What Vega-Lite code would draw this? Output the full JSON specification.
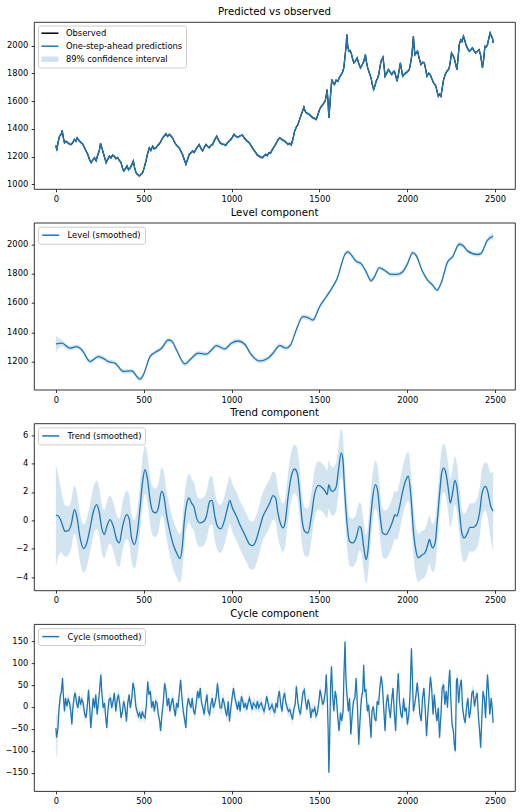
{
"$schema": "https://vega.github.io/schema/vega-lite/v6.json",
"padding": {"left": 4, "top": 6, "right": 5, "bottom": 5},
"spacing": 33.7,
"bounds": "flush",
"resolve": {"scale": {"color": "independent"}, "legend": {"color": "independent"}},
"config": {
  "font": "DejaVu Sans",
  "view": {"stroke": "#000000", "strokeWidth": 0.8},
  "axis": {"grid": false, "domain": false, "format": "d", "labelOverlap": false, "labelFont": "DejaVu Sans", "labelFontSize": 8.3, "labelColor": "#000000", "tickColor": "#000000", "tickSize": 2.8, "tickWidth": 0.8},
  "title": {"fontSize": 10.2, "font": "DejaVu Sans", "fontWeight": "normal", "color": "#000000", "offset": 5, "frame": "group", "anchor": "middle"},
  "legend": {"labelFont": "DejaVu Sans", "labelFontSize": 8.4, "labelColor": "#000000", "fillColor": "rgba(255,255,255,0.8)", "strokeColor": "#cccccc", "cornerRadius": 2.5, "padding": 3.5, "symbolSize": 72, "symbolType": "M-1,0L3,0", "labelOffset": 16, "rowPadding": 4, "symbolStrokeWidth": 1.5}
},
"datasets": {
"obs": [
{"t":0,"v":1280,"lo":1240,"hi":1320},{"t":6,"v":1245,"lo":1220,"hi":1270},{"t":12,"v":1300,"lo":1285,"hi":1315},{"t":21,"v":1347,"lo":1335,"hi":1359},{"t":30,"v":1360,"lo":1348,"hi":1372},{"t":36,"v":1388,"lo":1376,"hi":1400},{"t":42,"v":1340,"lo":1328,"hi":1352},{"t":49,"v":1300,"lo":1288,"hi":1312},{"t":58,"v":1310,"lo":1298,"hi":1322},{"t":68,"v":1300,"lo":1288,"hi":1312},{"t":78,"v":1290,"lo":1278,"hi":1302},{"t":87,"v":1287,"lo":1275,"hi":1299},{"t":96,"v":1300,"lo":1288,"hi":1312},{"t":106,"v":1323,"lo":1311,"hi":1335},{"t":114,"v":1310,"lo":1298,"hi":1322},{"t":121,"v":1335,"lo":1323,"hi":1347},{"t":132,"v":1315,"lo":1303,"hi":1327},{"t":144,"v":1300,"lo":1288,"hi":1312},{"t":153,"v":1290,"lo":1278,"hi":1302},{"t":163,"v":1263,"lo":1251,"hi":1275},{"t":172,"v":1240,"lo":1228,"hi":1252},{"t":182,"v":1215,"lo":1203,"hi":1227},{"t":191,"v":1180,"lo":1168,"hi":1192},{"t":201,"v":1156,"lo":1144,"hi":1168},{"t":210,"v":1175,"lo":1163,"hi":1187},{"t":220,"v":1192,"lo":1180,"hi":1204},{"t":229,"v":1170,"lo":1158,"hi":1182},{"t":239,"v":1215,"lo":1203,"hi":1227},{"t":247,"v":1240,"lo":1228,"hi":1252},{"t":254,"v":1295,"lo":1283,"hi":1307},{"t":260,"v":1270,"lo":1258,"hi":1282},{"t":267,"v":1240,"lo":1228,"hi":1252},{"t":276,"v":1200,"lo":1188,"hi":1212},{"t":286,"v":1156,"lo":1144,"hi":1168},{"t":295,"v":1180,"lo":1168,"hi":1192},{"t":305,"v":1203,"lo":1191,"hi":1215},{"t":314,"v":1190,"lo":1178,"hi":1202},{"t":323,"v":1210,"lo":1198,"hi":1222},{"t":333,"v":1203,"lo":1191,"hi":1215},{"t":342,"v":1185,"lo":1173,"hi":1197},{"t":352,"v":1192,"lo":1180,"hi":1204},{"t":362,"v":1170,"lo":1158,"hi":1182},{"t":371,"v":1156,"lo":1144,"hi":1168},{"t":378,"v":1120,"lo":1108,"hi":1132},{"t":386,"v":1096,"lo":1084,"hi":1108},{"t":395,"v":1110,"lo":1098,"hi":1122},{"t":405,"v":1132,"lo":1120,"hi":1144},{"t":414,"v":1105,"lo":1093,"hi":1117},{"t":424,"v":1120,"lo":1108,"hi":1132},{"t":432,"v":1140,"lo":1128,"hi":1152},{"t":441,"v":1168,"lo":1156,"hi":1180},{"t":448,"v":1120,"lo":1108,"hi":1132},{"t":456,"v":1084,"lo":1072,"hi":1096},{"t":465,"v":1070,"lo":1058,"hi":1082},{"t":475,"v":1060,"lo":1048,"hi":1072},{"t":485,"v":1072,"lo":1060,"hi":1084},{"t":494,"v":1084,"lo":1072,"hi":1096},{"t":503,"v":1120,"lo":1108,"hi":1132},{"t":513,"v":1168,"lo":1156,"hi":1180},{"t":522,"v":1220,"lo":1208,"hi":1232},{"t":532,"v":1263,"lo":1251,"hi":1275},{"t":541,"v":1245,"lo":1233,"hi":1257},{"t":551,"v":1275,"lo":1263,"hi":1287},{"t":560,"v":1255,"lo":1243,"hi":1267},{"t":570,"v":1263,"lo":1251,"hi":1275},{"t":580,"v":1280,"lo":1268,"hi":1292},{"t":589,"v":1292,"lo":1280,"hi":1304},{"t":598,"v":1310,"lo":1298,"hi":1322},{"t":608,"v":1335,"lo":1323,"hi":1347},{"t":618,"v":1350,"lo":1338,"hi":1362},{"t":627,"v":1364,"lo":1352,"hi":1376},{"t":636,"v":1345,"lo":1333,"hi":1357},{"t":646,"v":1360,"lo":1348,"hi":1372},{"t":655,"v":1348,"lo":1336,"hi":1360},{"t":664,"v":1335,"lo":1323,"hi":1347},{"t":673,"v":1310,"lo":1298,"hi":1322},{"t":683,"v":1287,"lo":1275,"hi":1299},{"t":692,"v":1275,"lo":1263,"hi":1287},{"t":702,"v":1263,"lo":1251,"hi":1275},{"t":711,"v":1240,"lo":1228,"hi":1252},{"t":721,"v":1215,"lo":1203,"hi":1227},{"t":730,"v":1180,"lo":1168,"hi":1192},{"t":740,"v":1144,"lo":1132,"hi":1156},{"t":750,"v":1180,"lo":1168,"hi":1192},{"t":759,"v":1215,"lo":1203,"hi":1227},{"t":768,"v":1225,"lo":1213,"hi":1237},{"t":778,"v":1240,"lo":1228,"hi":1252},{"t":787,"v":1230,"lo":1218,"hi":1242},{"t":797,"v":1252,"lo":1240,"hi":1264},{"t":806,"v":1270,"lo":1258,"hi":1282},{"t":816,"v":1287,"lo":1275,"hi":1299},{"t":825,"v":1260,"lo":1248,"hi":1272},{"t":835,"v":1240,"lo":1228,"hi":1252},{"t":844,"v":1265,"lo":1253,"hi":1277},{"t":854,"v":1287,"lo":1275,"hi":1299},{"t":863,"v":1275,"lo":1263,"hi":1287},{"t":873,"v":1263,"lo":1251,"hi":1275},{"t":882,"v":1280,"lo":1268,"hi":1292},{"t":892,"v":1287,"lo":1275,"hi":1299},{"t":904,"v":1320,"lo":1308,"hi":1332},{"t":916,"v":1347,"lo":1335,"hi":1359},{"t":925,"v":1320,"lo":1308,"hi":1332},{"t":935,"v":1300,"lo":1288,"hi":1312},{"t":946,"v":1290,"lo":1278,"hi":1302},{"t":958,"v":1287,"lo":1275,"hi":1299},{"t":967,"v":1280,"lo":1268,"hi":1292},{"t":977,"v":1300,"lo":1288,"hi":1312},{"t":986,"v":1310,"lo":1298,"hi":1322},{"t":996,"v":1323,"lo":1311,"hi":1335},{"t":1005,"v":1340,"lo":1328,"hi":1352},{"t":1014,"v":1360,"lo":1348,"hi":1372},{"t":1025,"v":1345,"lo":1333,"hi":1357},{"t":1037,"v":1340,"lo":1328,"hi":1352},{"t":1050,"v":1350,"lo":1338,"hi":1362},{"t":1062,"v":1355,"lo":1343,"hi":1367},{"t":1071,"v":1335,"lo":1323,"hi":1347},{"t":1081,"v":1323,"lo":1311,"hi":1335},{"t":1090,"v":1310,"lo":1298,"hi":1322},{"t":1100,"v":1300,"lo":1288,"hi":1312},{"t":1110,"v":1280,"lo":1268,"hi":1292},{"t":1119,"v":1263,"lo":1251,"hi":1275},{"t":1128,"v":1245,"lo":1233,"hi":1257},{"t":1138,"v":1228,"lo":1216,"hi":1240},{"t":1147,"v":1210,"lo":1198,"hi":1222},{"t":1157,"v":1203,"lo":1191,"hi":1215},{"t":1166,"v":1195,"lo":1183,"hi":1207},{"t":1176,"v":1192,"lo":1180,"hi":1204},{"t":1185,"v":1205,"lo":1193,"hi":1217},{"t":1194,"v":1215,"lo":1203,"hi":1227},{"t":1203,"v":1205,"lo":1193,"hi":1217},{"t":1213,"v":1228,"lo":1216,"hi":1240},{"t":1222,"v":1225,"lo":1213,"hi":1237},{"t":1232,"v":1250,"lo":1238,"hi":1262},{"t":1245,"v":1276,"lo":1264,"hi":1288},{"t":1251,"v":1287,"lo":1275,"hi":1299},{"t":1264,"v":1320,"lo":1308,"hi":1332},{"t":1275,"v":1335,"lo":1323,"hi":1347},{"t":1289,"v":1320,"lo":1308,"hi":1332},{"t":1302,"v":1312,"lo":1300,"hi":1324},{"t":1312,"v":1300,"lo":1288,"hi":1312},{"t":1321,"v":1288,"lo":1276,"hi":1300},{"t":1330,"v":1295,"lo":1283,"hi":1307},{"t":1340,"v":1283,"lo":1271,"hi":1295},{"t":1350,"v":1330,"lo":1318,"hi":1342},{"t":1359,"v":1383,"lo":1371,"hi":1395},{"t":1368,"v":1410,"lo":1398,"hi":1422},{"t":1378,"v":1431,"lo":1419,"hi":1443},{"t":1388,"v":1470,"lo":1458,"hi":1482},{"t":1397,"v":1503,"lo":1491,"hi":1515},{"t":1405,"v":1530,"lo":1518,"hi":1542},{"t":1412,"v":1556,"lo":1544,"hi":1568},{"t":1418,"v":1530,"lo":1518,"hi":1542},{"t":1425,"v":1515,"lo":1503,"hi":1527},{"t":1434,"v":1510,"lo":1498,"hi":1522},{"t":1444,"v":1503,"lo":1491,"hi":1515},{"t":1453,"v":1490,"lo":1478,"hi":1502},{"t":1463,"v":1479,"lo":1467,"hi":1491},{"t":1472,"v":1475,"lo":1463,"hi":1487},{"t":1482,"v":1467,"lo":1455,"hi":1479},{"t":1491,"v":1500,"lo":1488,"hi":1512},{"t":1501,"v":1539,"lo":1527,"hi":1551},{"t":1510,"v":1560,"lo":1548,"hi":1572},{"t":1520,"v":1575,"lo":1563,"hi":1587},{"t":1527,"v":1590,"lo":1578,"hi":1602},{"t":1533,"v":1599,"lo":1587,"hi":1611},{"t":1539,"v":1640,"lo":1628,"hi":1652},{"t":1544,"v":1683,"lo":1671,"hi":1695},{"t":1549,"v":1600,"lo":1588,"hi":1612},{"t":1554,"v":1479,"lo":1467,"hi":1491},{"t":1559,"v":1560,"lo":1548,"hi":1572},{"t":1563,"v":1635,"lo":1623,"hi":1647},{"t":1567,"v":1700,"lo":1688,"hi":1712},{"t":1571,"v":1755,"lo":1743,"hi":1767},{"t":1578,"v":1730,"lo":1718,"hi":1742},{"t":1586,"v":1719,"lo":1707,"hi":1731},{"t":1595,"v":1750,"lo":1738,"hi":1762},{"t":1605,"v":1743,"lo":1731,"hi":1755},{"t":1614,"v":1770,"lo":1758,"hi":1782},{"t":1624,"v":1791,"lo":1779,"hi":1803},{"t":1632,"v":1810,"lo":1798,"hi":1822},{"t":1639,"v":1839,"lo":1827,"hi":1851},{"t":1644,"v":1900,"lo":1888,"hi":1912},{"t":1649,"v":1959,"lo":1947,"hi":1971},{"t":1653,"v":2010,"lo":1998,"hi":2022},{"t":1656,"v":2079,"lo":2067,"hi":2091},{"t":1661,"v":2000,"lo":1988,"hi":2012},{"t":1667,"v":1959,"lo":1947,"hi":1971},{"t":1674,"v":1965,"lo":1953,"hi":1977},{"t":1681,"v":1947,"lo":1935,"hi":1959},{"t":1688,"v":1910,"lo":1898,"hi":1922},{"t":1696,"v":1875,"lo":1863,"hi":1887},{"t":1705,"v":1890,"lo":1878,"hi":1902},{"t":1715,"v":1911,"lo":1899,"hi":1923},{"t":1724,"v":1870,"lo":1858,"hi":1882},{"t":1734,"v":1839,"lo":1827,"hi":1851},{"t":1743,"v":1860,"lo":1848,"hi":1872},{"t":1753,"v":1887,"lo":1875,"hi":1899},{"t":1762,"v":1935,"lo":1923,"hi":1947},{"t":1768,"v":1880,"lo":1868,"hi":1892},{"t":1775,"v":1839,"lo":1827,"hi":1851},{"t":1785,"v":1800,"lo":1788,"hi":1812},{"t":1794,"v":1767,"lo":1755,"hi":1779},{"t":1801,"v":1720,"lo":1708,"hi":1732},{"t":1809,"v":1683,"lo":1671,"hi":1695},{"t":1816,"v":1710,"lo":1698,"hi":1722},{"t":1823,"v":1743,"lo":1731,"hi":1755},{"t":1830,"v":1760,"lo":1748,"hi":1772},{"t":1838,"v":1791,"lo":1779,"hi":1803},{"t":1844,"v":1840,"lo":1828,"hi":1852},{"t":1851,"v":1887,"lo":1875,"hi":1899},{"t":1862,"v":1916,"lo":1904,"hi":1928},{"t":1868,"v":1850,"lo":1838,"hi":1862},{"t":1874,"v":1779,"lo":1767,"hi":1791},{"t":1883,"v":1800,"lo":1788,"hi":1812},{"t":1893,"v":1827,"lo":1815,"hi":1839},{"t":1902,"v":1810,"lo":1798,"hi":1822},{"t":1912,"v":1791,"lo":1779,"hi":1803},{"t":1920,"v":1810,"lo":1798,"hi":1822},{"t":1927,"v":1815,"lo":1803,"hi":1827},{"t":1935,"v":1780,"lo":1768,"hi":1792},{"t":1942,"v":1743,"lo":1731,"hi":1755},{"t":1951,"v":1800,"lo":1788,"hi":1812},{"t":1961,"v":1875,"lo":1863,"hi":1887},{"t":1967,"v":1830,"lo":1818,"hi":1842},{"t":1974,"v":1779,"lo":1767,"hi":1791},{"t":1984,"v":1795,"lo":1783,"hi":1807},{"t":1993,"v":1803,"lo":1791,"hi":1815},{"t":2003,"v":1815,"lo":1803,"hi":1827},{"t":2012,"v":1827,"lo":1815,"hi":1839},{"t":2020,"v":1880,"lo":1868,"hi":1892},{"t":2027,"v":1935,"lo":1923,"hi":1947},{"t":2035,"v":2067,"lo":2055,"hi":2079},{"t":2040,"v":1980,"lo":1968,"hi":1992},{"t":2044,"v":1935,"lo":1923,"hi":1947},{"t":2052,"v":1950,"lo":1938,"hi":1962},{"t":2059,"v":1959,"lo":1947,"hi":1971},{"t":2068,"v":1910,"lo":1898,"hi":1922},{"t":2078,"v":1863,"lo":1851,"hi":1875},{"t":2088,"v":1880,"lo":1868,"hi":1892},{"t":2097,"v":1875,"lo":1863,"hi":1887},{"t":2105,"v":1830,"lo":1818,"hi":1842},{"t":2112,"v":1779,"lo":1767,"hi":1791},{"t":2122,"v":1800,"lo":1788,"hi":1812},{"t":2131,"v":1791,"lo":1779,"hi":1803},{"t":2140,"v":1760,"lo":1748,"hi":1772},{"t":2150,"v":1731,"lo":1719,"hi":1743},{"t":2157,"v":1720,"lo":1708,"hi":1732},{"t":2163,"v":1707,"lo":1695,"hi":1719},{"t":2170,"v":1670,"lo":1658,"hi":1682},{"t":2177,"v":1635,"lo":1623,"hi":1647},{"t":2185,"v":1650,"lo":1638,"hi":1662},{"t":2192,"v":1635,"lo":1623,"hi":1647},{"t":2200,"v":1700,"lo":1688,"hi":1712},{"t":2207,"v":1755,"lo":1743,"hi":1767},{"t":2216,"v":1790,"lo":1778,"hi":1802},{"t":2226,"v":1815,"lo":1803,"hi":1827},{"t":2233,"v":1825,"lo":1813,"hi":1837},{"t":2239,"v":1839,"lo":1827,"hi":1851},{"t":2246,"v":1890,"lo":1878,"hi":1902},{"t":2252,"v":1947,"lo":1935,"hi":1959},{"t":2260,"v":1930,"lo":1918,"hi":1942},{"t":2267,"v":1911,"lo":1899,"hi":1923},{"t":2275,"v":1870,"lo":1858,"hi":1882},{"t":2283,"v":1827,"lo":1815,"hi":1839},{"t":2290,"v":1920,"lo":1908,"hi":1932},{"t":2296,"v":2007,"lo":1995,"hi":2019},{"t":2305,"v":2043,"lo":2031,"hi":2055},{"t":2312,"v":2030,"lo":2018,"hi":2042},{"t":2320,"v":2067,"lo":2055,"hi":2079},{"t":2327,"v":2040,"lo":2028,"hi":2052},{"t":2334,"v":2007,"lo":1995,"hi":2019},{"t":2343,"v":1980,"lo":1968,"hi":1992},{"t":2353,"v":1959,"lo":1947,"hi":1971},{"t":2362,"v":1970,"lo":1958,"hi":1982},{"t":2371,"v":1983,"lo":1971,"hi":1995},{"t":2381,"v":1960,"lo":1948,"hi":1972},{"t":2390,"v":1947,"lo":1935,"hi":1959},{"t":2400,"v":1960,"lo":1948,"hi":1972},{"t":2409,"v":1971,"lo":1959,"hi":1983},{"t":2418,"v":1930,"lo":1918,"hi":1942},{"t":2428,"v":1839,"lo":1827,"hi":1851},{"t":2435,"v":1900,"lo":1888,"hi":1912},{"t":2442,"v":1995,"lo":1983,"hi":2007},{"t":2450,"v":1990,"lo":1978,"hi":2002},{"t":2457,"v":2007,"lo":1995,"hi":2019},{"t":2464,"v":2050,"lo":2038,"hi":2062},{"t":2472,"v":2091,"lo":2079,"hi":2103},{"t":2478,"v":2070,"lo":2058,"hi":2082},{"t":2485,"v":2055,"lo":2043,"hi":2067},{"t":2489,"v":2020,"lo":2008,"hi":2032}
],
"level": [
{"t":0,"v":1320,"lo":1265,"hi":1375},{"t":34,"v":1325,"lo":1303,"hi":1347},{"t":81,"v":1291,"lo":1275,"hi":1307},{"t":119,"v":1302,"lo":1287,"hi":1317},{"t":148,"v":1279,"lo":1264,"hi":1294},{"t":195,"v":1200,"lo":1185,"hi":1215},{"t":242,"v":1234,"lo":1219,"hi":1249},{"t":261,"v":1227,"lo":1212,"hi":1242},{"t":299,"v":1200,"lo":1185,"hi":1215},{"t":337,"v":1189,"lo":1174,"hi":1204},{"t":384,"v":1132,"lo":1117,"hi":1147},{"t":431,"v":1136,"lo":1121,"hi":1151},{"t":479,"v":1080,"lo":1065,"hi":1095},{"t":498,"v":1109,"lo":1094,"hi":1124},{"t":536,"v":1234,"lo":1219,"hi":1249},{"t":573,"v":1268,"lo":1253,"hi":1283},{"t":602,"v":1291,"lo":1276,"hi":1306},{"t":640,"v":1347,"lo":1332,"hi":1362},{"t":659,"v":1340,"lo":1325,"hi":1355},{"t":687,"v":1279,"lo":1264,"hi":1294},{"t":734,"v":1184,"lo":1169,"hi":1199},{"t":772,"v":1223,"lo":1208,"hi":1238},{"t":810,"v":1257,"lo":1242,"hi":1272},{"t":857,"v":1250,"lo":1235,"hi":1265},{"t":886,"v":1279,"lo":1264,"hi":1294},{"t":914,"v":1309,"lo":1294,"hi":1324},{"t":961,"v":1286,"lo":1271,"hi":1301},{"t":999,"v":1325,"lo":1310,"hi":1340},{"t":1037,"v":1340,"lo":1325,"hi":1355},{"t":1075,"v":1318,"lo":1303,"hi":1333},{"t":1113,"v":1245,"lo":1230,"hi":1260},{"t":1160,"v":1204,"lo":1189,"hi":1219},{"t":1207,"v":1223,"lo":1208,"hi":1238},{"t":1236,"v":1257,"lo":1242,"hi":1272},{"t":1274,"v":1309,"lo":1294,"hi":1324},{"t":1311,"v":1291,"lo":1276,"hi":1306},{"t":1336,"v":1313,"lo":1298,"hi":1328},{"t":1368,"v":1415,"lo":1400,"hi":1430},{"t":1406,"v":1506,"lo":1491,"hi":1521},{"t":1435,"v":1499,"lo":1484,"hi":1514},{"t":1463,"v":1483,"lo":1468,"hi":1498},{"t":1501,"v":1574,"lo":1559,"hi":1589},{"t":1539,"v":1642,"lo":1627,"hi":1657},{"t":1576,"v":1710,"lo":1695,"hi":1725},{"t":1605,"v":1778,"lo":1763,"hi":1793},{"t":1624,"v":1857,"lo":1842,"hi":1872},{"t":1643,"v":1925,"lo":1910,"hi":1940},{"t":1662,"v":1948,"lo":1933,"hi":1963},{"t":1690,"v":1914,"lo":1899,"hi":1929},{"t":1709,"v":1884,"lo":1869,"hi":1899},{"t":1737,"v":1868,"lo":1853,"hi":1883},{"t":1766,"v":1812,"lo":1797,"hi":1827},{"t":1794,"v":1751,"lo":1736,"hi":1766},{"t":1813,"v":1778,"lo":1763,"hi":1793},{"t":1841,"v":1839,"lo":1824,"hi":1854},{"t":1870,"v":1823,"lo":1808,"hi":1838},{"t":1908,"v":1794,"lo":1779,"hi":1809},{"t":1945,"v":1794,"lo":1779,"hi":1809},{"t":1974,"v":1812,"lo":1797,"hi":1827},{"t":2002,"v":1868,"lo":1853,"hi":1883},{"t":2031,"v":1943,"lo":1928,"hi":1958},{"t":2050,"v":1925,"lo":1910,"hi":1940},{"t":2088,"v":1812,"lo":1797,"hi":1827},{"t":2116,"v":1755,"lo":1740,"hi":1770},{"t":2145,"v":1721,"lo":1706,"hi":1736},{"t":2170,"v":1687,"lo":1672,"hi":1702},{"t":2192,"v":1732,"lo":1717,"hi":1747},{"t":2230,"v":1880,"lo":1865,"hi":1895},{"t":2258,"v":1914,"lo":1899,"hi":1929},{"t":2296,"v":2000,"lo":1985,"hi":2015},{"t":2315,"v":1993,"lo":1978,"hi":2008},{"t":2343,"v":1955,"lo":1940,"hi":1970},{"t":2400,"v":1930,"lo":1915,"hi":1945},{"t":2419,"v":1936,"lo":1921,"hi":1951},{"t":2456,"v":2027,"lo":2010,"hi":2044},{"t":2489,"v":2056,"lo":2034,"hi":2078}
],
"trend": [
{"t":0,"v":0.36,"lo":-3.24,"hi":3.96},{"t":15,"v":0.29,"lo":-2.51,"hi":3.09},{"t":30,"v":-0.07,"lo":-2.27,"hi":2.13},{"t":53,"v":-0.77,"lo":-2.57,"hi":1.03},{"t":72,"v":-0.72,"lo":-2.42,"hi":0.98},{"t":87,"v":-0.3,"lo":-2.0,"hi":1.4},{"t":106,"v":0.75,"lo":-0.95,"hi":2.45},{"t":119,"v":0.29,"lo":-1.41,"hi":1.99},{"t":138,"v":-1.24,"lo":-2.94,"hi":0.46},{"t":157,"v":-1.99,"lo":-3.69,"hi":-0.29},{"t":176,"v":-1.59,"lo":-3.29,"hi":0.11},{"t":195,"v":-0.53,"lo":-2.23,"hi":1.17},{"t":214,"v":0.64,"lo":-1.06,"hi":2.34},{"t":233,"v":1.11,"lo":-0.59,"hi":2.81},{"t":246,"v":0.64,"lo":-1.06,"hi":2.34},{"t":261,"v":-0.53,"lo":-2.23,"hi":1.17},{"t":276,"v":-1.0,"lo":-2.7,"hi":0.7},{"t":290,"v":-0.42,"lo":-2.12,"hi":1.28},{"t":308,"v":0.05,"lo":-1.65,"hi":1.75},{"t":327,"v":-0.42,"lo":-2.12,"hi":1.28},{"t":346,"v":-1.35,"lo":-3.05,"hi":0.35},{"t":361,"v":-1.59,"lo":-3.29,"hi":0.11},{"t":378,"v":-0.53,"lo":-2.23,"hi":1.17},{"t":403,"v":0.4,"lo":-1.3,"hi":2.1},{"t":418,"v":0.05,"lo":-1.65,"hi":1.75},{"t":431,"v":-1.24,"lo":-2.94,"hi":0.46},{"t":447,"v":-1.7,"lo":-3.4,"hi":0.0},{"t":466,"v":-0.65,"lo":-2.35,"hi":1.05},{"t":479,"v":0.87,"lo":-0.83,"hi":2.57},{"t":494,"v":2.74,"lo":1.04,"hi":4.44},{"t":507,"v":3.56,"lo":1.86,"hi":5.26},{"t":522,"v":2.86,"lo":1.16,"hi":4.56},{"t":536,"v":1.46,"lo":-0.24,"hi":3.16},{"t":551,"v":0.64,"lo":-1.06,"hi":2.34},{"t":568,"v":0.52,"lo":-1.18,"hi":2.22},{"t":583,"v":0.87,"lo":-0.83,"hi":2.57},{"t":602,"v":2.04,"lo":0.34,"hi":3.74},{"t":615,"v":1.69,"lo":-0.01,"hi":3.39},{"t":630,"v":0.4,"lo":-1.3,"hi":2.1},{"t":649,"v":-0.77,"lo":-2.47,"hi":0.93},{"t":668,"v":-1.7,"lo":-3.4,"hi":0.0},{"t":687,"v":-2.29,"lo":-3.99,"hi":-0.59},{"t":706,"v":-2.69,"lo":-4.39,"hi":-0.99},{"t":719,"v":-1.94,"lo":-3.64,"hi":-0.24},{"t":731,"v":-0.07,"lo":-1.77,"hi":1.63},{"t":744,"v":1.11,"lo":-0.59,"hi":2.81},{"t":757,"v":1.57,"lo":-0.13,"hi":3.27},{"t":772,"v":1.22,"lo":-0.48,"hi":2.92},{"t":787,"v":0.92,"lo":-0.78,"hi":2.62},{"t":801,"v":0.17,"lo":-1.53,"hi":1.87},{"t":819,"v":-0.18,"lo":-1.88,"hi":1.52},{"t":838,"v":-0.11,"lo":-1.81,"hi":1.59},{"t":857,"v":0.29,"lo":-1.41,"hi":1.99},{"t":876,"v":1.34,"lo":-0.36,"hi":3.04},{"t":889,"v":1.41,"lo":-0.29,"hi":3.11},{"t":905,"v":0.29,"lo":-1.41,"hi":1.99},{"t":920,"v":-0.42,"lo":-2.12,"hi":1.28},{"t":939,"v":-0.6,"lo":-2.3,"hi":1.1},{"t":958,"v":-0.07,"lo":-1.77,"hi":1.63},{"t":977,"v":0.87,"lo":-0.83,"hi":2.57},{"t":990,"v":1.41,"lo":-0.29,"hi":3.11},{"t":1005,"v":0.87,"lo":-0.83,"hi":2.57},{"t":1028,"v":0.29,"lo":-1.41,"hi":1.99},{"t":1047,"v":-0.3,"lo":-2.0,"hi":1.4},{"t":1066,"v":-0.77,"lo":-2.47,"hi":0.93},{"t":1084,"v":-1.24,"lo":-2.94,"hi":0.46},{"t":1103,"v":-1.7,"lo":-3.4,"hi":0.0},{"t":1122,"v":-1.78,"lo":-3.48,"hi":-0.08},{"t":1141,"v":-1.35,"lo":-3.05,"hi":0.35},{"t":1160,"v":-0.53,"lo":-2.23,"hi":1.17},{"t":1179,"v":0.29,"lo":-1.41,"hi":1.99},{"t":1198,"v":0.75,"lo":-0.95,"hi":2.45},{"t":1217,"v":1.22,"lo":-0.48,"hi":2.92},{"t":1236,"v":1.74,"lo":0.04,"hi":3.44},{"t":1251,"v":1.57,"lo":-0.13,"hi":3.27},{"t":1264,"v":0.52,"lo":-1.18,"hi":2.22},{"t":1279,"v":-0.25,"lo":-1.95,"hi":1.45},{"t":1293,"v":-0.53,"lo":-2.23,"hi":1.17},{"t":1306,"v":-0.07,"lo":-1.77,"hi":1.63},{"t":1321,"v":1.57,"lo":-0.13,"hi":3.27},{"t":1340,"v":3.1,"lo":1.4,"hi":4.8},{"t":1359,"v":3.61,"lo":1.91,"hi":5.31},{"t":1374,"v":3.33,"lo":1.63,"hi":5.03},{"t":1387,"v":2.04,"lo":0.34,"hi":3.74},{"t":1400,"v":0.17,"lo":-1.53,"hi":1.87},{"t":1416,"v":-0.77,"lo":-2.47,"hi":0.93},{"t":1435,"v":-0.89,"lo":-2.59,"hi":0.81},{"t":1453,"v":0.17,"lo":-1.53,"hi":1.87},{"t":1472,"v":1.81,"lo":0.11,"hi":3.51},{"t":1495,"v":2.46,"lo":0.76,"hi":4.16},{"t":1514,"v":2.32,"lo":0.62,"hi":4.02},{"t":1533,"v":2.04,"lo":0.34,"hi":3.74},{"t":1544,"v":1.81,"lo":0.11,"hi":3.51},{"t":1554,"v":2.51,"lo":0.81,"hi":4.21},{"t":1563,"v":2.16,"lo":0.46,"hi":3.86},{"t":1576,"v":2.04,"lo":0.34,"hi":3.74},{"t":1595,"v":2.32,"lo":0.62,"hi":4.02},{"t":1609,"v":3.56,"lo":1.86,"hi":5.26},{"t":1624,"v":4.74,"lo":3.04,"hi":6.44},{"t":1633,"v":4.38,"lo":2.68,"hi":6.08},{"t":1643,"v":2.28,"lo":0.58,"hi":3.98},{"t":1658,"v":-0.3,"lo":-2.0,"hi":1.4},{"t":1671,"v":-1.47,"lo":-3.17,"hi":0.23},{"t":1690,"v":-1.59,"lo":-3.29,"hi":0.11},{"t":1709,"v":-1.24,"lo":-2.94,"hi":0.46},{"t":1728,"v":-0.42,"lo":-2.12,"hi":1.28},{"t":1737,"v":-0.53,"lo":-2.23,"hi":1.17},{"t":1753,"v":-1.94,"lo":-3.64,"hi":-0.24},{"t":1766,"v":-2.76,"lo":-4.46,"hi":-1.06},{"t":1775,"v":-2.29,"lo":-3.99,"hi":-0.59},{"t":1790,"v":-0.07,"lo":-1.77,"hi":1.63},{"t":1803,"v":1.57,"lo":-0.13,"hi":3.27},{"t":1819,"v":2.51,"lo":0.81,"hi":4.21},{"t":1832,"v":2.04,"lo":0.34,"hi":3.74},{"t":1847,"v":0.17,"lo":-1.53,"hi":1.87},{"t":1860,"v":-0.89,"lo":-2.59,"hi":0.81},{"t":1879,"v":-1.0,"lo":-2.7,"hi":0.7},{"t":1898,"v":-0.65,"lo":-2.35,"hi":1.05},{"t":1917,"v":-0.07,"lo":-1.77,"hi":1.63},{"t":1930,"v":0.4,"lo":-1.3,"hi":2.1},{"t":1941,"v":0.29,"lo":-1.41,"hi":1.99},{"t":1955,"v":0.87,"lo":-0.83,"hi":2.57},{"t":1974,"v":2.04,"lo":0.34,"hi":3.74},{"t":1993,"v":2.86,"lo":1.16,"hi":4.56},{"t":2006,"v":3.1,"lo":1.4,"hi":4.8},{"t":2021,"v":1.69,"lo":-0.01,"hi":3.39},{"t":2037,"v":-1.0,"lo":-2.7,"hi":0.7},{"t":2050,"v":-2.17,"lo":-3.87,"hi":-0.47},{"t":2063,"v":-2.64,"lo":-4.34,"hi":-0.94},{"t":2082,"v":-2.45,"lo":-4.15,"hi":-0.75},{"t":2101,"v":-2.29,"lo":-3.99,"hi":-0.59},{"t":2112,"v":-1.94,"lo":-3.64,"hi":-0.24},{"t":2127,"v":-1.35,"lo":-3.05,"hi":0.35},{"t":2135,"v":-1.7,"lo":-3.4,"hi":0.0},{"t":2145,"v":-1.94,"lo":-3.64,"hi":-0.24},{"t":2159,"v":-1.59,"lo":-3.29,"hi":0.11},{"t":2170,"v":-0.18,"lo":-1.88,"hi":1.52},{"t":2183,"v":1.69,"lo":-0.01,"hi":3.39},{"t":2196,"v":3.33,"lo":1.63,"hi":5.03},{"t":2207,"v":3.68,"lo":1.98,"hi":5.38},{"t":2220,"v":3.33,"lo":1.63,"hi":5.03},{"t":2233,"v":2.28,"lo":0.58,"hi":3.98},{"t":2245,"v":1.22,"lo":-0.48,"hi":2.92},{"t":2258,"v":1.92,"lo":0.22,"hi":3.62},{"t":2271,"v":2.81,"lo":1.11,"hi":4.51},{"t":2282,"v":2.39,"lo":0.69,"hi":4.09},{"t":2296,"v":0.75,"lo":-0.95,"hi":2.45},{"t":2311,"v":-0.89,"lo":-2.59,"hi":0.81},{"t":2324,"v":-1.24,"lo":-2.94,"hi":0.46},{"t":2343,"v":-0.89,"lo":-2.59,"hi":0.81},{"t":2356,"v":-0.49,"lo":-2.19,"hi":1.21},{"t":2375,"v":-0.49,"lo":-2.19,"hi":1.21},{"t":2394,"v":-0.3,"lo":-2.0,"hi":1.4},{"t":2413,"v":0.64,"lo":-1.06,"hi":2.34},{"t":2426,"v":1.92,"lo":0.22,"hi":3.62},{"t":2445,"v":2.39,"lo":0.69,"hi":4.09},{"t":2458,"v":2.04,"lo":0.14,"hi":3.94},{"t":2475,"v":1.01,"lo":-1.29,"hi":3.31},{"t":2489,"v":0.65,"lo":-2.15,"hi":3.45}
],
"cycle": [
{"t":0,"v":-48,"lo":-108,"hi":12},{"t":4,"v":-70,"lo":-120,"hi":-20},{"t":12,"v":-48,"lo":-83,"hi":-13},{"t":17,"v":-10,"lo":-35,"hi":15},{"t":25,"v":24,"lo":6,"hi":42},{"t":32,"v":36,"lo":22,"hi":50},{"t":38,"v":66,"lo":52,"hi":80},{"t":44,"v":17,"lo":3,"hi":31},{"t":49,"v":-10,"lo":-24,"hi":4},{"t":55,"v":20,"lo":6,"hi":34},{"t":63,"v":2,"lo":-12,"hi":16},{"t":70,"v":17,"lo":3,"hi":31},{"t":78,"v":9,"lo":-5,"hi":23},{"t":85,"v":-10,"lo":-24,"hi":4},{"t":91,"v":-40,"lo":-54,"hi":-26},{"t":97,"v":-2,"lo":-16,"hi":12},{"t":104,"v":24,"lo":10,"hi":38},{"t":110,"v":32,"lo":18,"hi":46},{"t":118,"v":9,"lo":-5,"hi":23},{"t":125,"v":-2,"lo":-16,"hi":12},{"t":133,"v":24,"lo":10,"hi":38},{"t":140,"v":5,"lo":-9,"hi":19},{"t":148,"v":17,"lo":3,"hi":31},{"t":155,"v":9,"lo":-5,"hi":23},{"t":163,"v":-14,"lo":-28,"hi":0},{"t":171,"v":-25,"lo":-39,"hi":-11},{"t":178,"v":-2,"lo":-16,"hi":12},{"t":186,"v":39,"lo":25,"hi":53},{"t":191,"v":9,"lo":-5,"hi":23},{"t":199,"v":-48,"lo":-62,"hi":-34},{"t":205,"v":-17,"lo":-31,"hi":-3},{"t":212,"v":20,"lo":6,"hi":34},{"t":220,"v":-2,"lo":-16,"hi":12},{"t":227,"v":28,"lo":14,"hi":42},{"t":235,"v":-17,"lo":-31,"hi":-3},{"t":243,"v":13,"lo":-1,"hi":27},{"t":250,"v":43,"lo":29,"hi":57},{"t":256,"v":74,"lo":60,"hi":88},{"t":261,"v":36,"lo":22,"hi":50},{"t":269,"v":-2,"lo":-16,"hi":12},{"t":277,"v":9,"lo":-5,"hi":23},{"t":284,"v":-25,"lo":-39,"hi":-11},{"t":290,"v":-48,"lo":-62,"hi":-34},{"t":296,"v":-10,"lo":-24,"hi":4},{"t":303,"v":17,"lo":3,"hi":31},{"t":311,"v":20,"lo":6,"hi":34},{"t":318,"v":-2,"lo":-16,"hi":12},{"t":326,"v":13,"lo":-1,"hi":27},{"t":333,"v":32,"lo":18,"hi":46},{"t":341,"v":-10,"lo":-24,"hi":4},{"t":349,"v":17,"lo":3,"hi":31},{"t":356,"v":28,"lo":14,"hi":42},{"t":364,"v":5,"lo":-9,"hi":19},{"t":371,"v":-25,"lo":-39,"hi":-11},{"t":379,"v":-10,"lo":-24,"hi":4},{"t":386,"v":13,"lo":-1,"hi":27},{"t":394,"v":-2,"lo":-16,"hi":12},{"t":402,"v":-33,"lo":-47,"hi":-19},{"t":409,"v":9,"lo":-5,"hi":23},{"t":417,"v":28,"lo":14,"hi":42},{"t":424,"v":-2,"lo":-16,"hi":12},{"t":432,"v":20,"lo":6,"hi":34},{"t":439,"v":55,"lo":41,"hi":69},{"t":447,"v":39,"lo":25,"hi":53},{"t":455,"v":2,"lo":-12,"hi":16},{"t":462,"v":-10,"lo":-24,"hi":4},{"t":470,"v":-21,"lo":-35,"hi":-7},{"t":477,"v":-14,"lo":-28,"hi":0},{"t":485,"v":-27,"lo":-41,"hi":-13},{"t":492,"v":-10,"lo":-24,"hi":4},{"t":500,"v":-21,"lo":-35,"hi":-7},{"t":508,"v":-25,"lo":-39,"hi":-11},{"t":515,"v":5,"lo":-9,"hi":19},{"t":523,"v":58,"lo":44,"hi":72},{"t":530,"v":28,"lo":14,"hi":42},{"t":538,"v":36,"lo":22,"hi":50},{"t":545,"v":-2,"lo":-16,"hi":12},{"t":553,"v":13,"lo":-1,"hi":27},{"t":561,"v":-10,"lo":-24,"hi":4},{"t":568,"v":13,"lo":-1,"hi":27},{"t":576,"v":9,"lo":-5,"hi":23},{"t":583,"v":-17,"lo":-31,"hi":-3},{"t":591,"v":-33,"lo":-47,"hi":-19},{"t":596,"v":-55,"lo":-69,"hi":-41},{"t":604,"v":-17,"lo":-31,"hi":-3},{"t":612,"v":13,"lo":-1,"hi":27},{"t":619,"v":54,"lo":40,"hi":68},{"t":627,"v":36,"lo":22,"hi":50},{"t":634,"v":2,"lo":-12,"hi":16},{"t":642,"v":20,"lo":6,"hi":34},{"t":649,"v":-10,"lo":-24,"hi":4},{"t":657,"v":9,"lo":-5,"hi":23},{"t":665,"v":20,"lo":6,"hi":34},{"t":672,"v":-2,"lo":-16,"hi":12},{"t":680,"v":-21,"lo":-35,"hi":-7},{"t":687,"v":9,"lo":-5,"hi":23},{"t":695,"v":-2,"lo":-16,"hi":12},{"t":702,"v":28,"lo":14,"hi":42},{"t":710,"v":62,"lo":48,"hi":76},{"t":718,"v":20,"lo":6,"hi":34},{"t":725,"v":-10,"lo":-24,"hi":4},{"t":733,"v":-29,"lo":-43,"hi":-15},{"t":740,"v":-48,"lo":-62,"hi":-34},{"t":746,"v":-2,"lo":-16,"hi":12},{"t":754,"v":20,"lo":6,"hi":34},{"t":761,"v":9,"lo":-5,"hi":23},{"t":769,"v":-2,"lo":-16,"hi":12},{"t":776,"v":20,"lo":6,"hi":34},{"t":784,"v":-10,"lo":-24,"hi":4},{"t":791,"v":-17,"lo":-31,"hi":-3},{"t":799,"v":9,"lo":-5,"hi":23},{"t":807,"v":36,"lo":22,"hi":50},{"t":814,"v":20,"lo":6,"hi":34},{"t":822,"v":43,"lo":29,"hi":57},{"t":829,"v":9,"lo":-5,"hi":23},{"t":837,"v":-2,"lo":-16,"hi":12},{"t":844,"v":-17,"lo":-31,"hi":-3},{"t":852,"v":9,"lo":-5,"hi":23},{"t":860,"v":28,"lo":14,"hi":42},{"t":867,"v":-10,"lo":-24,"hi":4},{"t":875,"v":-17,"lo":-31,"hi":-3},{"t":882,"v":5,"lo":-9,"hi":19},{"t":890,"v":20,"lo":6,"hi":34},{"t":897,"v":-2,"lo":-16,"hi":12},{"t":905,"v":9,"lo":-5,"hi":23},{"t":913,"v":24,"lo":10,"hi":38},{"t":920,"v":54,"lo":40,"hi":68},{"t":928,"v":20,"lo":6,"hi":34},{"t":935,"v":-2,"lo":-16,"hi":12},{"t":943,"v":-2,"lo":-16,"hi":12},{"t":950,"v":20,"lo":6,"hi":34},{"t":958,"v":9,"lo":-5,"hi":23},{"t":966,"v":-10,"lo":-24,"hi":4},{"t":973,"v":-21,"lo":-35,"hi":-7},{"t":981,"v":13,"lo":-1,"hi":27},{"t":988,"v":-33,"lo":-47,"hi":-19},{"t":996,"v":-2,"lo":-16,"hi":12},{"t":1003,"v":20,"lo":6,"hi":34},{"t":1011,"v":43,"lo":29,"hi":57},{"t":1019,"v":20,"lo":6,"hi":34},{"t":1026,"v":9,"lo":-5,"hi":23},{"t":1034,"v":-6,"lo":-20,"hi":8},{"t":1041,"v":13,"lo":-1,"hi":27},{"t":1049,"v":-10,"lo":-24,"hi":4},{"t":1056,"v":24,"lo":10,"hi":38},{"t":1064,"v":13,"lo":-1,"hi":27},{"t":1071,"v":-2,"lo":-16,"hi":12},{"t":1079,"v":9,"lo":-5,"hi":23},{"t":1087,"v":-6,"lo":-20,"hi":8},{"t":1094,"v":9,"lo":-5,"hi":23},{"t":1102,"v":20,"lo":6,"hi":34},{"t":1109,"v":9,"lo":-5,"hi":23},{"t":1117,"v":-6,"lo":-20,"hi":8},{"t":1124,"v":9,"lo":-5,"hi":23},{"t":1132,"v":5,"lo":-9,"hi":19},{"t":1140,"v":-2,"lo":-16,"hi":12},{"t":1147,"v":13,"lo":-1,"hi":27},{"t":1155,"v":-2,"lo":-16,"hi":12},{"t":1162,"v":5,"lo":-9,"hi":19},{"t":1170,"v":9,"lo":-5,"hi":23},{"t":1177,"v":-2,"lo":-16,"hi":12},{"t":1185,"v":-10,"lo":-24,"hi":4},{"t":1193,"v":5,"lo":-9,"hi":19},{"t":1200,"v":24,"lo":10,"hi":38},{"t":1208,"v":9,"lo":-5,"hi":23},{"t":1215,"v":-6,"lo":-20,"hi":8},{"t":1223,"v":-2,"lo":-16,"hi":12},{"t":1230,"v":5,"lo":-9,"hi":19},{"t":1238,"v":-6,"lo":-20,"hi":8},{"t":1246,"v":-14,"lo":-28,"hi":0},{"t":1253,"v":9,"lo":-5,"hi":23},{"t":1261,"v":-2,"lo":-16,"hi":12},{"t":1264,"v":20,"lo":6,"hi":34},{"t":1272,"v":36,"lo":22,"hi":50},{"t":1279,"v":9,"lo":-5,"hi":23},{"t":1287,"v":-10,"lo":-24,"hi":4},{"t":1294,"v":20,"lo":6,"hi":34},{"t":1302,"v":32,"lo":18,"hi":46},{"t":1309,"v":9,"lo":-5,"hi":23},{"t":1317,"v":-2,"lo":-16,"hi":12},{"t":1324,"v":-10,"lo":-24,"hi":4},{"t":1332,"v":-6,"lo":-20,"hi":8},{"t":1339,"v":-17,"lo":-31,"hi":-3},{"t":1347,"v":-29,"lo":-43,"hi":-15},{"t":1354,"v":-6,"lo":-20,"hi":8},{"t":1362,"v":5,"lo":-9,"hi":19},{"t":1369,"v":47,"lo":33,"hi":61},{"t":1377,"v":13,"lo":-1,"hi":27},{"t":1384,"v":-6,"lo":-20,"hi":8},{"t":1392,"v":-17,"lo":-31,"hi":-3},{"t":1399,"v":9,"lo":-5,"hi":23},{"t":1406,"v":32,"lo":18,"hi":46},{"t":1414,"v":39,"lo":25,"hi":53},{"t":1421,"v":13,"lo":-1,"hi":27},{"t":1429,"v":-6,"lo":-20,"hi":8},{"t":1436,"v":17,"lo":3,"hi":31},{"t":1444,"v":5,"lo":-9,"hi":19},{"t":1451,"v":-25,"lo":-39,"hi":-11},{"t":1459,"v":-6,"lo":-20,"hi":8},{"t":1466,"v":-10,"lo":-24,"hi":4},{"t":1474,"v":-2,"lo":-16,"hi":12},{"t":1481,"v":-21,"lo":-35,"hi":-7},{"t":1489,"v":-13,"lo":-27,"hi":1},{"t":1496,"v":9,"lo":-5,"hi":23},{"t":1504,"v":39,"lo":25,"hi":53},{"t":1511,"v":24,"lo":10,"hi":38},{"t":1519,"v":5,"lo":-9,"hi":19},{"t":1526,"v":13,"lo":-1,"hi":27},{"t":1534,"v":36,"lo":22,"hi":50},{"t":1539,"v":74,"lo":60,"hi":88},{"t":1545,"v":20,"lo":6,"hi":34},{"t":1550,"v":-55,"lo":-69,"hi":-41},{"t":1554,"v":-150,"lo":-170,"hi":-130},{"t":1558,"v":-86,"lo":-100,"hi":-72},{"t":1564,"v":51,"lo":37,"hi":65},{"t":1569,"v":93,"lo":79,"hi":107},{"t":1575,"v":28,"lo":14,"hi":42},{"t":1582,"v":-10,"lo":-24,"hi":4},{"t":1590,"v":36,"lo":22,"hi":50},{"t":1597,"v":20,"lo":6,"hi":34},{"t":1605,"v":-25,"lo":-39,"hi":-11},{"t":1612,"v":-55,"lo":-69,"hi":-41},{"t":1620,"v":-13,"lo":-27,"hi":1},{"t":1627,"v":-32,"lo":-46,"hi":-18},{"t":1635,"v":-10,"lo":-24,"hi":4},{"t":1640,"v":77,"lo":63,"hi":91},{"t":1646,"v":149,"lo":129,"hi":169},{"t":1651,"v":66,"lo":52,"hi":80},{"t":1657,"v":28,"lo":14,"hi":42},{"t":1665,"v":-10,"lo":-24,"hi":4},{"t":1672,"v":20,"lo":6,"hi":34},{"t":1679,"v":-63,"lo":-77,"hi":-49},{"t":1687,"v":-17,"lo":-31,"hi":-3},{"t":1694,"v":13,"lo":-1,"hi":27},{"t":1702,"v":20,"lo":6,"hi":34},{"t":1709,"v":66,"lo":52,"hi":80},{"t":1717,"v":-2,"lo":-16,"hi":12},{"t":1724,"v":-86,"lo":-100,"hi":-72},{"t":1732,"v":-25,"lo":-39,"hi":-11},{"t":1739,"v":20,"lo":6,"hi":34},{"t":1747,"v":36,"lo":22,"hi":50},{"t":1752,"v":96,"lo":82,"hi":110},{"t":1758,"v":36,"lo":22,"hi":50},{"t":1765,"v":39,"lo":25,"hi":53},{"t":1773,"v":-10,"lo":-24,"hi":4},{"t":1780,"v":5,"lo":-9,"hi":19},{"t":1788,"v":-36,"lo":-50,"hi":-22},{"t":1794,"v":-70,"lo":-84,"hi":-56},{"t":1799,"v":-10,"lo":-24,"hi":4},{"t":1807,"v":1,"lo":-13,"hi":15},{"t":1814,"v":-25,"lo":-39,"hi":-11},{"t":1822,"v":-32,"lo":-46,"hi":-18},{"t":1829,"v":13,"lo":-1,"hi":27},{"t":1837,"v":5,"lo":-9,"hi":19},{"t":1844,"v":43,"lo":29,"hi":57},{"t":1852,"v":70,"lo":56,"hi":84},{"t":1859,"v":47,"lo":33,"hi":61},{"t":1866,"v":-2,"lo":-16,"hi":12},{"t":1874,"v":-55,"lo":-69,"hi":-41},{"t":1881,"v":9,"lo":-5,"hi":23},{"t":1889,"v":28,"lo":14,"hi":42},{"t":1896,"v":-2,"lo":-16,"hi":12},{"t":1904,"v":-25,"lo":-39,"hi":-11},{"t":1911,"v":13,"lo":-1,"hi":27},{"t":1919,"v":43,"lo":29,"hi":57},{"t":1926,"v":-10,"lo":-24,"hi":4},{"t":1934,"v":-55,"lo":-69,"hi":-41},{"t":1941,"v":20,"lo":6,"hi":34},{"t":1949,"v":77,"lo":63,"hi":91},{"t":1956,"v":13,"lo":-1,"hi":27},{"t":1964,"v":-17,"lo":-31,"hi":-3},{"t":1971,"v":-25,"lo":-39,"hi":-11},{"t":1979,"v":20,"lo":6,"hi":34},{"t":1986,"v":-10,"lo":-24,"hi":4},{"t":1994,"v":-2,"lo":-16,"hi":12},{"t":2001,"v":-40,"lo":-54,"hi":-26},{"t":2009,"v":-17,"lo":-31,"hi":-3},{"t":2016,"v":28,"lo":14,"hi":42},{"t":2024,"v":134,"lo":114,"hi":154},{"t":2029,"v":73,"lo":59,"hi":87},{"t":2035,"v":-10,"lo":-24,"hi":4},{"t":2042,"v":5,"lo":-9,"hi":19},{"t":2050,"v":28,"lo":14,"hi":42},{"t":2057,"v":55,"lo":41,"hi":69},{"t":2065,"v":20,"lo":6,"hi":34},{"t":2072,"v":-17,"lo":-31,"hi":-3},{"t":2080,"v":-32,"lo":-46,"hi":-18},{"t":2087,"v":20,"lo":6,"hi":34},{"t":2095,"v":43,"lo":29,"hi":57},{"t":2102,"v":-2,"lo":-16,"hi":12},{"t":2110,"v":-67,"lo":-81,"hi":-53},{"t":2117,"v":-17,"lo":-31,"hi":-3},{"t":2124,"v":20,"lo":6,"hi":34},{"t":2132,"v":69,"lo":55,"hi":83},{"t":2139,"v":43,"lo":29,"hi":57},{"t":2147,"v":-17,"lo":-31,"hi":-3},{"t":2154,"v":28,"lo":14,"hi":42},{"t":2162,"v":-10,"lo":-24,"hi":4},{"t":2169,"v":-32,"lo":-46,"hi":-18},{"t":2177,"v":-2,"lo":-16,"hi":12},{"t":2184,"v":-70,"lo":-84,"hi":-56},{"t":2192,"v":-17,"lo":-31,"hi":-3},{"t":2199,"v":43,"lo":29,"hi":57},{"t":2207,"v":51,"lo":37,"hi":65},{"t":2214,"v":5,"lo":-9,"hi":19},{"t":2222,"v":36,"lo":22,"hi":50},{"t":2229,"v":-2,"lo":-16,"hi":12},{"t":2237,"v":58,"lo":44,"hi":72},{"t":2242,"v":85,"lo":71,"hi":99},{"t":2248,"v":20,"lo":6,"hi":34},{"t":2255,"v":-40,"lo":-54,"hi":-26},{"t":2263,"v":-55,"lo":-69,"hi":-41},{"t":2268,"v":-86,"lo":-100,"hi":-72},{"t":2274,"v":-101,"lo":-115,"hi":-87},{"t":2280,"v":58,"lo":44,"hi":72},{"t":2285,"v":66,"lo":52,"hi":80},{"t":2293,"v":9,"lo":-5,"hi":23},{"t":2300,"v":47,"lo":33,"hi":61},{"t":2308,"v":62,"lo":48,"hi":76},{"t":2315,"v":-2,"lo":-16,"hi":12},{"t":2323,"v":-25,"lo":-39,"hi":-11},{"t":2330,"v":-36,"lo":-50,"hi":-22},{"t":2338,"v":1,"lo":-13,"hi":15},{"t":2345,"v":20,"lo":6,"hi":34},{"t":2353,"v":-25,"lo":-39,"hi":-11},{"t":2360,"v":-10,"lo":-24,"hi":4},{"t":2368,"v":32,"lo":18,"hi":46},{"t":2375,"v":36,"lo":22,"hi":50},{"t":2383,"v":1,"lo":-13,"hi":15},{"t":2390,"v":20,"lo":6,"hi":34},{"t":2398,"v":32,"lo":18,"hi":46},{"t":2405,"v":-21,"lo":-35,"hi":-7},{"t":2412,"v":-55,"lo":-69,"hi":-41},{"t":2418,"v":-93,"lo":-107,"hi":-79},{"t":2424,"v":-32,"lo":-46,"hi":-18},{"t":2431,"v":36,"lo":22,"hi":50},{"t":2439,"v":20,"lo":6,"hi":34},{"t":2446,"v":-25,"lo":-39,"hi":-11},{"t":2452,"v":36,"lo":22,"hi":50},{"t":2457,"v":74,"lo":60,"hi":88},{"t":2463,"v":36,"lo":22,"hi":50},{"t":2470,"v":-17,"lo":-31,"hi":-3},{"t":2478,"v":20,"lo":4,"hi":36},{"t":2483,"v":1,"lo":-17,"hi":19},{"t":2489,"v":-36,"lo":-58,"hi":-14}
]
},
"vconcat": [
{
  "width": 481, "height": 167,
  "title": "Predicted vs observed",
  "data": {"name": "obs"},
  "encoding": {"x": {"field": "t", "type": "quantitative", "title": null, "scale": {"domain": [-124.45, 2613.45], "nice": false, "zero": false}, "axis": {"values": [0, 500, 1000, 1500, 2000, 2500], "tickCount": 30, "labelOverlap": false, "labelPadding": 2.5}}},
  "layer": [
    {"mark": {"type": "area", "opacity": 1}, "encoding": {"y": {"field": "lo", "type": "quantitative", "title": null, "scale": {"domain": [966, 2170], "nice": false, "zero": false}, "axis": {"values": [1000, 1200, 1400, 1600, 1800, 2000], "tickCount": 30, "labelOverlap": false, "labelPadding": 3.5}}, "y2": {"field": "hi"}, "color": {"datum": "89% confidence interval"}}},
    {"mark": {"type": "line", "strokeWidth": 1.3}, "encoding": {"y": {"field": "v", "type": "quantitative"}, "color": {"datum": "Observed"}}},
    {"mark": {"type": "line", "strokeWidth": 1.3}, "encoding": {"y": {"field": "v", "type": "quantitative"}, "color": {"datum": "One-step-ahead predictions", "type": "nominal", "scale": {"domain": ["Observed", "One-step-ahead predictions", "89% confidence interval"], "range": ["#000000", "#1f77b4", "#d2e3f0"]}, "legend": {"title": null, "orient": "none", "legendX": 4, "legendY": 3.5, "encode": {"symbols": {"update": {"shape": {"signal": "datum.value === '89% confidence interval' ? 'M-1,-0.65L3,-0.65L3,0.65L-1,0.65Z' : 'M-1,0L3,0'"}, "strokeWidth": {"signal": "datum.value === '89% confidence interval' ? 0 : 1.5"}, "opacity": {"value": 1}}}}}}}}
  ]
},
{
  "width": 481, "height": 167,
  "title": "Level component",
  "data": {"name": "level"},
  "encoding": {"x": {"field": "t", "type": "quantitative", "title": null, "scale": {"domain": [-124.45, 2613.45], "nice": false, "zero": false}, "axis": {"values": [0, 500, 1000, 1500, 2000, 2500], "tickCount": 30, "labelOverlap": false, "labelPadding": 2.5}}},
  "layer": [
    {"mark": {"type": "area", "color": "#1f77b4", "opacity": 0.2, "interpolate": "monotone"}, "encoding": {"y": {"field": "lo", "type": "quantitative", "title": null, "scale": {"domain": [1008, 2147], "nice": false, "zero": false}, "axis": {"values": [1200, 1400, 1600, 1800, 2000], "tickCount": 30, "labelOverlap": false, "labelPadding": 3.5}}, "y2": {"field": "hi"}}},
    {"mark": {"type": "line", "strokeWidth": 1.3, "interpolate": "monotone"}, "encoding": {"y": {"field": "v", "type": "quantitative"}, "color": {"datum": "Level (smoothed)", "type": "nominal", "scale": {"range": ["#1f77b4"]}, "legend": {"title": null, "orient": "none", "legendX": 4, "legendY": 4}}}}
  ]
},
{
  "width": 481, "height": 167,
  "title": "Trend component",
  "data": {"name": "trend"},
  "encoding": {"x": {"field": "t", "type": "quantitative", "title": null, "scale": {"domain": [-124.45, 2613.45], "nice": false, "zero": false}, "axis": {"values": [0, 500, 1000, 1500, 2000, 2500], "tickCount": 30, "labelOverlap": false, "labelPadding": 2.5}}},
  "layer": [
    {"mark": {"type": "area", "color": "#1f77b4", "opacity": 0.2, "interpolate": "monotone"}, "encoding": {"y": {"field": "lo", "type": "quantitative", "title": null, "scale": {"domain": [-4.93, 6.82], "nice": false, "zero": false}, "axis": {"values": [-4, -2, 0, 2, 4, 6], "tickCount": 30, "labelOverlap": false, "labelPadding": 3.5}}, "y2": {"field": "hi"}}},
    {"mark": {"type": "line", "strokeWidth": 1.3, "interpolate": "monotone"}, "encoding": {"y": {"field": "v", "type": "quantitative"}, "color": {"datum": "Trend (smoothed)", "type": "nominal", "scale": {"range": ["#1f77b4"]}, "legend": {"title": null, "orient": "none", "legendX": 4, "legendY": 4}}}}
  ]
},
{
  "width": 481, "height": 167,
  "title": "Cycle component",
  "data": {"name": "cycle"},
  "encoding": {"x": {"field": "t", "type": "quantitative", "title": null, "scale": {"domain": [-124.45, 2613.45], "nice": false, "zero": false}, "axis": {"values": [0, 500, 1000, 1500, 2000, 2500], "tickCount": 30, "labelOverlap": false, "labelPadding": 2.5}}},
  "layer": [
    {"mark": {"type": "area", "color": "#1f77b4", "opacity": 0.15}, "encoding": {"y": {"field": "lo", "type": "quantitative", "title": null, "scale": {"domain": [-192, 189], "nice": false, "zero": false}, "axis": {"values": [-150, -100, -50, 0, 50, 100, 150], "tickCount": 30, "labelOverlap": false, "labelPadding": 3.5}}, "y2": {"field": "hi"}}},
    {"mark": {"type": "line", "strokeWidth": 1.3}, "encoding": {"y": {"field": "v", "type": "quantitative"}, "color": {"datum": "Cycle (smoothed)", "type": "nominal", "scale": {"range": ["#1f77b4"]}, "legend": {"title": null, "orient": "none", "legendX": 4, "legendY": 4}}}}
  ]
}
]
}
